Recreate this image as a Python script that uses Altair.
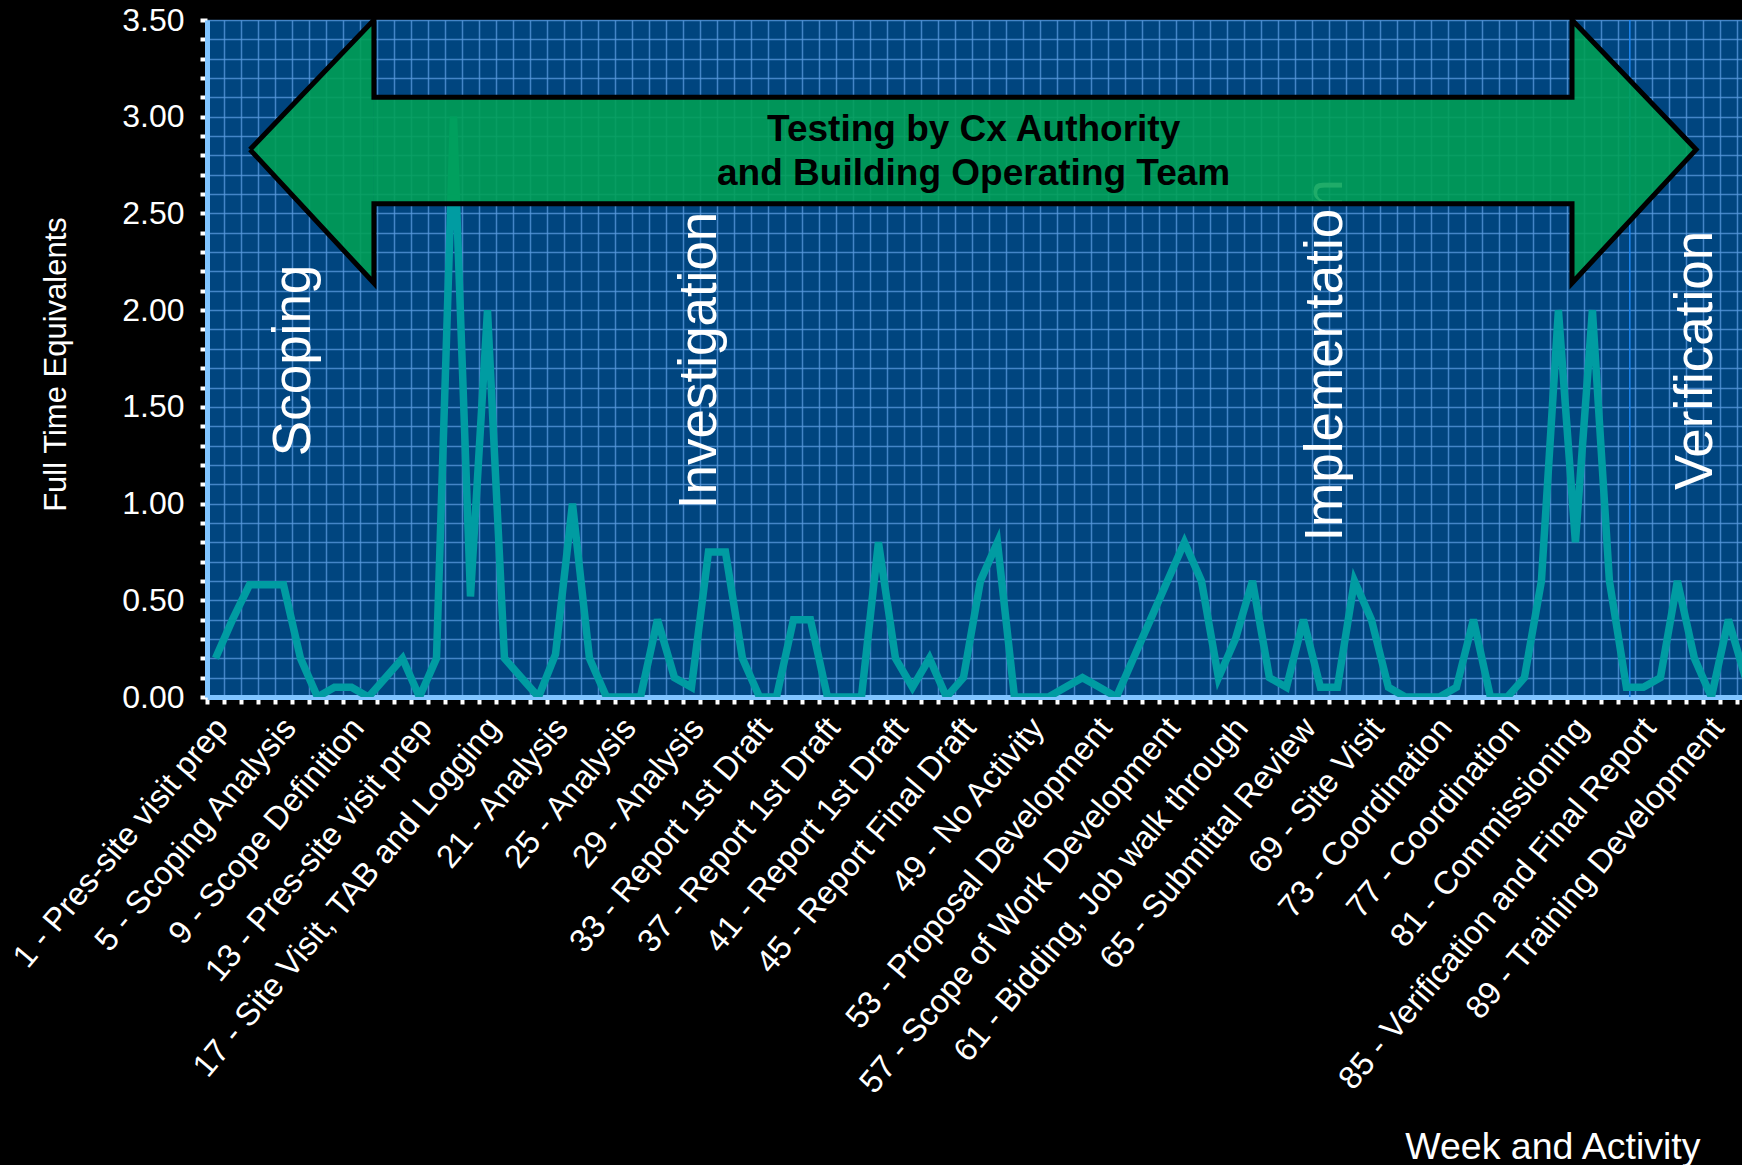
import json
import altair as alt
import pandas as pd

# ---- data ----
weeks = list(range(1, 92))
fte = [0.2, 0.4, 0.58, 0.58, 0.58, 0.2, 0.0, 0.05, 0.05, 0.0,
       0.1, 0.2, 0.0, 0.2, 3.0, 0.52, 2.0, 0.2, 0.1, 0.0,
       0.22, 1.0, 0.2, 0.0, 0.0, 0.0, 0.4, 0.1, 0.05, 0.75,
       0.75, 0.2, 0.0, 0.0, 0.4, 0.4, 0.0, 0.0, 0.0, 0.8,
       0.2, 0.05, 0.2, 0.0, 0.1, 0.6, 0.8, 0.0, 0.0, 0.0,
       0.05, 0.1, 0.05, 0.0, 0.2, 0.4, 0.6, 0.8, 0.6, 0.1,
       0.3, 0.6, 0.1, 0.05, 0.4, 0.05, 0.05, 0.6, 0.4, 0.05,
       0.0, 0.0, 0.0, 0.05, 0.4, 0.0, 0.0, 0.1, 0.6, 2.0,
       0.8, 2.0, 0.6, 0.05, 0.05, 0.1, 0.6, 0.2, 0.0, 0.4,
       0.1]

x_labels = [
    "1 - Pres-site visit prep", "5 - Scoping Analysis", "9 - Scope Definition",
    "13 - Pres-site visit prep", "17 - Site Visit, TAB and Logging", "21 - Analysis",
    "25 - Analysis", "29 - Analysis", "33 - Report 1st Draft", "37 - Report 1st Draft",
    "41 - Report 1st Draft", "45 - Report Final Draft", "49 - No Activity",
    "53 - Proposal Development", "57 - Scope of Work Development",
    "61 - Bidding, Job walk through", "65 - Submittal Review", "69 - Site Visit",
    "73 - Coordination", "77 - Coordination", "81 - Commissioning",
    "85 - Verification and Final Report", "89 - Training Development",
]

phase_names = ["Scoping", "Investigation", "Implementation", "Verification"]
phase_x = [5.62, 29.5, 66.3, 88.1]
phase_y = [1.74, 1.74, 1.74, 1.74]

# double arrow: tip / head / shaft positions (data units)
arrow_tip_l, arrow_head_l, arrow_head_r, arrow_tip_r = 3.03, 10.32, 80.8, 88.1
arrow_mid = 2.83
arrow_head_lo, arrow_head_hi = 2.14, 3.50
arrow_shaft_lo, arrow_shaft_hi = 2.55, 3.10
arrow_text = "Testing by Cx Authority\nand Building Operating Team"
arrow_text_x = [45.6]
arrow_text_y = [2.93]

divider_x = [84.2]

# ---- scales / axes ----
FONT = "Liberation Sans"
xscale = alt.Scale(domain=[0.5, 90.8], nice=False, zero=False)
yscale = alt.Scale(domain=[0, 3.5], nice=False, zero=True)

x_vals = [i / 2 for i in range(1, 182)]
y_vals = [round(i * 0.1, 1) for i in range(36)]
labels_js = json.dumps(x_labels)
x_label_expr = f"(datum.value % 4 === 1) ? {labels_js}[(datum.value - 1) / 4] : ''"
y_label_expr = "(round(datum.value * 10) % 5 === 0) ? format(datum.value, '.2f') : ''"

grid_col = "#5A9BDF"
axis_col = "#80C4FF"

x_axis = alt.Axis(
    values=x_vals, tickCount=1000, labelExpr=x_label_expr, labelAngle=310, labelAlign="right",
    labelBaseline="middle", labelFontSize=32.5, labelFont=FONT, labelColor="white",
    labelPadding=18, labelOffset=6, labelOverlap=False, labelFlush=False, labelBound=False,
    labelLimit=2000,
    tickColor="white", tickWidth=4, tickSize=7,
    tickOpacity={"condition": {"test": "datum.value % 1 === 0", "value": 0}, "value": 1},
    grid=True, gridColor=grid_col, gridWidth=1.5,
    gridOpacity={"condition": {"test": "datum.value % 1 === 0", "value": 0}, "value": 0.75},
    domainColor=axis_col, domainWidth=5,
    title="Week and Activity", titleFont=FONT, titleFontSize=37.5, titleFontWeight="normal",
    titleColor="white", titleAlign="right", titleBaseline="alphabetic",
    titleX=1493, titleY=461,
)
y_axis = alt.Axis(
    values=y_vals, tickCount=1000, labelExpr=y_label_expr, labelFontSize=32, labelFont=FONT,
    labelColor="white", labelPadding=16, labelOverlap=False, labelFlush=False,
    tickColor="white", tickWidth=4, tickSize=7,
    grid=True, gridColor=grid_col, gridWidth=1.5, gridOpacity=0.75,
    domainColor=axis_col, domainWidth=5,
    title="Full Time Equivalents", titleFont=FONT, titleFontSize=31,
    titleFontWeight="normal", titleColor="white", titleAngle=270,
    titleAlign="center", titleBaseline="middle", titleX=-151, titleY=344,
)

# ---- layers ----
line_df = pd.DataFrame({"week": weeks, "fte": fte})
base_line = alt.Chart(line_df).mark_line(
    color="#009CA2", strokeWidth=7.5, clip=True, strokeJoin="miter"
).encode(
    x=alt.X("week:Q", scale=xscale, axis=x_axis),
    y=alt.Y("fte:Q", scale=yscale, axis=y_axis),
)

divider = alt.Chart(pd.DataFrame({"x": divider_x})).mark_rule(
    color="#1E86F0", strokeWidth=1.5
).encode(x=alt.X("x:Q", scale=xscale))

phase_df = pd.DataFrame({"name": phase_names, "x": phase_x, "y": phase_y})
phases = alt.Chart(phase_df).mark_text(
    angle=270, fontSize=53, font=FONT, color="white", align="center", baseline="middle"
).encode(
    x=alt.X("x:Q", scale=xscale), y=alt.Y("y:Q", scale=yscale), text="name:N"
)

# arrow fill: three monotonic pieces (left head, shaft, right head)
fill_df = pd.DataFrame({
    "x": [arrow_tip_l, arrow_head_l, arrow_head_l, arrow_head_r, arrow_head_r, arrow_tip_r],
    "lo": [arrow_mid, arrow_head_lo, arrow_shaft_lo, arrow_shaft_lo, arrow_head_lo, arrow_mid],
    "hi": [arrow_mid, arrow_head_hi, arrow_shaft_hi, arrow_shaft_hi, arrow_head_hi, arrow_mid],
    "part": ["L", "L", "S", "S", "R", "R"],
})
arrow_fill = alt.Chart(fill_df).mark_area(
    color="#00A154", opacity=0.88, interpolate="linear"
).encode(
    x=alt.X("x:Q", scale=xscale),
    y=alt.Y("lo:Q", scale=yscale),
    y2="hi:Q",
    detail="part:N",
)

# arrow outline: closed polygon
outline_df = pd.DataFrame({
    "x": [arrow_tip_l, arrow_head_l, arrow_head_l, arrow_head_r, arrow_head_r, arrow_tip_r,
          arrow_head_r, arrow_head_r, arrow_head_l, arrow_head_l, arrow_tip_l],
    "y": [arrow_mid, arrow_head_hi, arrow_shaft_hi, arrow_shaft_hi, arrow_head_hi, arrow_mid,
          arrow_head_lo, arrow_shaft_lo, arrow_shaft_lo, arrow_head_lo, arrow_mid],
    "o": list(range(11)),
})
arrow_outline = alt.Chart(outline_df).mark_line(
    color="black", strokeWidth=5, strokeJoin="miter"
).encode(
    x=alt.X("x:Q", scale=xscale),
    y=alt.Y("y:Q", scale=yscale),
    order="o:Q",
)

atext_df = pd.DataFrame({"t": [arrow_text], "x": arrow_text_x, "y": arrow_text_y})
atext = alt.Chart(atext_df).mark_text(
    fontSize=37, fontWeight="bold", font=FONT, color="black", lineBreak="\n",
    lineHeight=44, align="center", baseline="middle"
).encode(
    x=alt.X("x:Q", scale=xscale), y=alt.Y("y:Q", scale=yscale), text="t:N"
)

chart = alt.layer(divider, base_line, phases, arrow_fill, arrow_outline, atext).properties(
    width=1535, height=677,
    autosize=alt.AutoSizeParams(type="none"),
    padding={"left": 207, "top": 20, "right": 0, "bottom": 468},
    background="black",
).configure_view(fill="#00457F", stroke=None)

chart.save("out.html", embed_options={"renderer": "svg", "actions": False})
